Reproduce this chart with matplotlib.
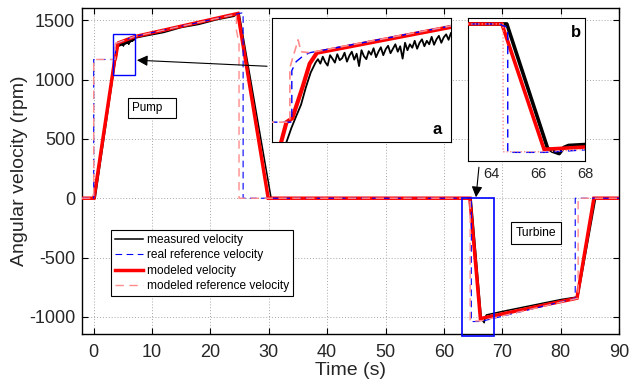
import numpy as np
import matplotlib
matplotlib.use("Agg")
import matplotlib.pyplot as plt
from matplotlib.patches import Rectangle

plt.rcParams['font.family'] = ['Liberation Sans', 'DejaVu Sans']
plt.rcParams['axes.unicode_minus'] = False

# ---------------- data ----------------
# measured velocity (rpm) vs time (s)
meas_t_start = [-2.0, -1.0, 0.0, 0.25, 3.6, 3.7, 3.8, 3.9, 4.0, 4.1, 4.2]
meas_v_start = [0, 0, 0, 0, 1130, 1158, 1182, 1205, 1240, 1270, 1290]
meas_t_noisy = np.round(np.arange(4.25, 7.001, 0.05), 2)
meas_v_noisy = [1297, 1288, 1302, 1291, 1284, 1305, 1298, 1290, 1307, 1295,
                1299, 1310, 1292, 1304, 1312, 1296, 1308, 1283, 1315, 1303,
                1297, 1313, 1306, 1319, 1301, 1312, 1321, 1305, 1317, 1324,
                1309, 1318, 1327, 1312, 1323, 1298, 1330, 1315, 1327, 1320,
                1334, 1318, 1330, 1337, 1323, 1334, 1327, 1342, 1326, 1337,
                1344, 1330, 1341, 1347, 1336, 1350]
meas_t_end = [9, 12, 15, 18, 21, 24, 24.9, 30.4, 40, 50, 60, 64.66, 66.4, 66.6,
              66.9, 67.1, 67.3, 70, 75, 80, 82.95, 86.0, 90]
meas_v_end = [1370, 1398, 1440, 1466, 1505, 1534, 1562, 0, 0, 0, 0, 0, -1005, -1030,
              -1050, -1000, -984, -955, -905, -855, -832, 0, 0]
meas_t = np.concatenate([meas_t_start, meas_t_noisy, meas_t_end])
meas_v = np.concatenate([meas_v_start, meas_v_noisy, meas_v_end])

# real reference velocity
ref_t = [-2, 0, 0, 3.71, 3.71, 3.8, 3.95, 4.08, 7.0, 25.6, 25.6, 64.35, 64.7, 64.7,
         66.3, 82.5, 82.5, 90]
ref_v = [0, 0, 1170, 1170, 1274, 1292, 1304, 1310, 1364, 1565, 0, 0, -30, -1040,
         -1040, -845, 0, 0]

# modeled velocity
model_t = [-2, 0.05, 3.49, 3.6, 3.72, 3.93, 4.08, 4.23, 7.0, 24.7, 29.9, 64.45,
           66.25, 82.8, 85.7, 90]
model_v = [0, 0, 1130, 1170, 1178, 1240, 1288, 1310, 1362, 1558, 0, 0,
           -1015, -843, 0, 0]

# modeled reference velocity
mref_t = [-2, 0, 0, 3.67, 3.67, 3.84, 3.9, 4.08, 7.0, 24.45, 24.45, 24.9, 24.9,
          64.5, 64.5, 66.3, 83.0, 83.0, 90]
mref_v = [0, 0, 1170, 1170, 1280, 1336, 1312, 1310, 1364, 1552, 1420, 1300, 0,
          0, -1035, -1035, -843, 0, 0]

xticks = [0, 10, 20, 30, 40, 50, 60, 70, 80, 90]
yticks = [-1000, -500, 0, 500, 1000, 1500]
inset_b_ticks = [64, 66, 68]

PINK = '#ff8c8c'

fig = plt.figure(figsize=(6.29, 3.81), dpi=100)
ax = fig.add_axes([0.1304, 0.1234, 0.8537, 0.8543])


def draw(a, lw_meas, lw_model, lw_ref, lw_mref, mref_ls):
    h1, = a.plot(meas_t, meas_v, color='k', lw=lw_meas, zorder=2,
                 label='measured velocity')
    h3, = a.plot(model_t, model_v, color='red', lw=lw_model, zorder=3,
                 label='modeled velocity', solid_joinstyle='miter')
    h2, = a.plot(ref_t, ref_v, color='blue', lw=lw_ref, ls=(0, (6, 4)), zorder=4,
                 label='real reference velocity')
    h4, = a.plot(mref_t, mref_v, color=PINK, lw=lw_mref, ls=mref_ls, zorder=4,
                 label='modeled reference velocity')
    return [h1, h2, h3, h4]


handles = draw(ax, 1.1, 2.5, 0.8, 1.0, (0, (6, 4)))
ax.set_xlim(-2, 90)
ax.set_ylim(-1145, 1600)
ax.set_xticks(xticks)
ax.set_yticks(yticks)
ax.grid(True, ls=(0, (1, 2)), color='#a8a8a8', lw=0.7)
ax.tick_params(direction='in', top=True, right=True, length=4, width=0.8,
               labelsize=13, labelcolor='#262626')
ax.tick_params(axis='x', pad=7)
ax.tick_params(axis='y', pad=5)
for s in ax.spines.values():
    s.set_linewidth(1.0)
ax.set_xlabel('Time (s)', fontsize=14, color='#262626')
ax.set_ylabel('Angular velocity (rpm)', fontsize=14, color='#262626')
ax.xaxis.set_label_coords(0.5, -0.085)
ax.yaxis.set_label_coords(-0.10, 0.5)

leg = ax.legend(handles=handles, loc='upper left', bbox_to_anchor=(0.054, 0.319),
                borderaxespad=0, fontsize=8.6, frameon=True, fancybox=False,
                edgecolor='black', framealpha=1, handlelength=2.4,
                handletextpad=0.3, labelspacing=0.3, borderpad=0.3)
leg.get_frame().set_linewidth(0.8)

# label boxes
ax.text(10.03, 763, 'Pump   ', fontsize=8.4, ha='center', va='center',
        bbox=dict(boxstyle='square,pad=0.35', fc='white', ec='black', lw=0.8))
ax.text(75.8, -295, 'Turbine', fontsize=8.7, ha='center', va='center',
        bbox=dict(boxstyle='square,pad=0.4', fc='white', ec='black', lw=0.8))

# zoom rectangles
ax.add_patch(Rectangle((3.26, 1042), 3.77, 341, fill=False, ec='blue', lw=1.0,
                       zorder=6))
ax.add_patch(Rectangle((63.1, -1165), 5.5, 1165, fill=False, ec='blue', lw=1.2,
                       zorder=6, clip_on=False))

# arrows
ax.annotate('', xy=(7.4, 1164), xytext=(29.7, 1113),
            arrowprops=dict(arrowstyle='-|>', color='k', lw=0.8,
                            mutation_scale=16, shrinkA=0, shrinkB=0), zorder=7)
ax.annotate('', xy=(65.5, 8), xytext=(66.0, 261),
            arrowprops=dict(arrowstyle='-|>', color='k', lw=0.8,
                            mutation_scale=16, shrinkA=0, shrinkB=0), zorder=7)

# inset a
axa = fig.add_axes([0.4324, 0.6273, 0.2846, 0.3255], zorder=5)
draw(axa, 1.3, 3.0, 1.0, 1.2, (0, (5, 3)))
axa.set_xlim(3.3, 7.0)
axa.set_ylim(1130, 1380)
axa.set_xticks([])
axa.set_yticks([])
axa.text(0.92, 0.1, 'a', transform=axa.transAxes, fontsize=12, weight='bold',
         ha='center', va='center')

# inset b
axb = fig.add_axes([0.7440, 0.5774, 0.186, 0.3753], zorder=5)
draw(axb, 2.6, 2.6, 1.0, 1.0, (0, (1, 1.5)))
axb.set_xlim(63, 68)
axb.set_ylim(-1110, 48)
axb.set_xticks(inset_b_ticks)
axb.set_yticks([])
axb.tick_params(axis='x', length=0, pad=4, labelsize=10.5, labelcolor='#262626')
axb.text(0.92, 0.9, 'b', transform=axb.transAxes, fontsize=12, weight='bold',
         ha='center', va='center')

fig.savefig('out.png', dpi=100)
